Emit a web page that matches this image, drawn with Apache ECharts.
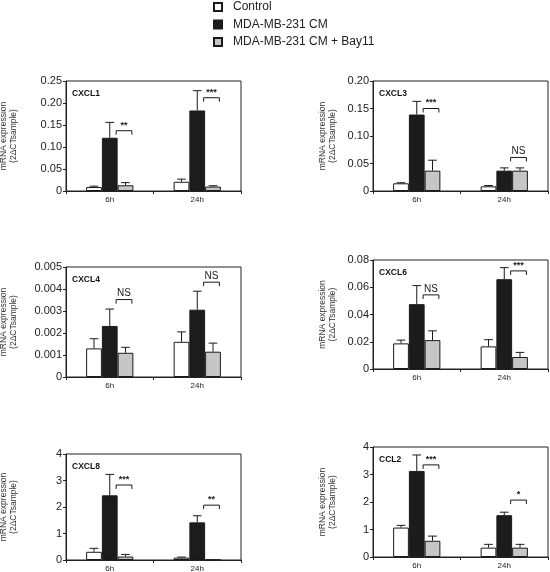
<!DOCTYPE html>
<html><head><meta charset="utf-8">
<script src="https://cdn.jsdelivr.net/npm/echarts@6/dist/echarts.min.js"></script>
<style>html,body{margin:0;padding:0;background:#fff}#c{width:550px;height:572px}</style>
</head><body><div id="c"></div>
<script>
// ---------- data ----------
const categories = ['6h', '24h'];
const seriesNames = ['Control', 'MDA-MB-231 CM', 'MDA-MB-231 CM + Bay11'];
const panelTitles = ['CXCL1', 'CXCL3', 'CXCL4', 'CXCL6', 'CXCL8', 'CCL2'];

// values [6h, 24h] ; error tops [6h, 24h]
const cxcl1Control = [0.009, 0.021], cxcl1ControlErr = [0.011, 0.027];
const cxcl1MDA = [0.121, 0.183], cxcl1MDAErr = [0.156, 0.228];
const cxcl1Bay = [0.013, 0.010], cxcl1BayErr = [0.019, 0.012];
const cxcl1Sig = [0.137, 0.212], cxcl1SigLabels = ['**', '***'];
const cxcl1Ticks = ['0', '0.05', '0.10', '0.15', '0.20', '0.25'];

const cxcl3Control = [0.014, 0.0085], cxcl3ControlErr = [0.015, 0.010];
const cxcl3MDA = [0.139, 0.037], cxcl3MDAErr = [0.163, 0.042];
const cxcl3Bay = [0.037, 0.037], cxcl3BayErr = [0.056, 0.042];
const cxcl3Sig = [0.150, 0.061], cxcl3SigLabels = ['***', 'NS'];
const cxcl3Ticks = ['0', '0.05', '0.10', '0.15', '0.20'];

const cxcl4Control = [0.0013, 0.0016], cxcl4ControlErr = [0.00174, 0.00205];
const cxcl4MDA = [0.00232, 0.00306], cxcl4MDAErr = [0.00309, 0.0039];
const cxcl4Bay = [0.0011, 0.00115], cxcl4BayErr = [0.00135, 0.00154];
const cxcl4Sig = [0.00352, 0.00431], cxcl4SigLabels = ['NS', 'NS'];
const cxcl4Ticks = ['0', '0.001', '0.002', '0.003', '0.004', '0.005'];

const cxcl6Control = [0.0188, 0.0166], cxcl6ControlErr = [0.0212, 0.0215];
const cxcl6MDA = [0.0476, 0.0659], cxcl6MDAErr = [0.0612, 0.0744];
const cxcl6Bay = [0.0212, 0.0088], cxcl6BayErr = [0.028, 0.0122];
const cxcl6Sig = [0.0544, 0.072], cxcl6SigLabels = ['NS', '***'];
const cxcl6Ticks = ['0', '0.02', '0.04', '0.06', '0.08'];

const cxcl8Control = [0.31, 0.09], cxcl8ControlErr = [0.44, 0.11];
const cxcl8MDA = [2.44, 1.42], cxcl8MDAErr = [3.23, 1.67];
const cxcl8Bay = [0.13, 0.01], cxcl8BayErr = [0.21, 0.01];
const cxcl8Sig = [2.83, 2.07], cxcl8SigLabels = ['***', '**'];
const cxcl8Ticks = ['0', '1', '2', '3', '4'];

const ccl2Control = [1.07, 0.34], ccl2ControlErr = [1.15, 0.46];
const ccl2MDA = [3.13, 1.52], ccl2MDAErr = [3.71, 1.63];
const ccl2Bay = [0.59, 0.34], ccl2BayErr = [0.76, 0.46];
const ccl2Sig = [3.35, 2.07], ccl2SigLabels = ['***', '*'];
const ccl2Ticks = ['0', '1', '2', '3', '4'];

const yMax = [0.25, 0.20, 0.005, 0.08, 4, 4];
const yStep = [0.05, 0.05, 0.001, 0.02, 1, 1];

// ---------- layout / style ----------
const FONT = '"Liberation Sans", Arial, sans-serif';
const grids = [
  {left: 66, top: 81, width: 175, height: 110},
  {left: 373, top: 81, width: 175, height: 110},
  {left: 66, top: 267, width: 175, height: 110},
  {left: 373, top: 260, width: 175, height: 109},
  {left: 66, top: 454, width: 175, height: 106},
  {left: 373, top: 447, width: 175, height: 110}
];
const nameGaps = [47, 35, 47, 35, 47, 35];
const fills = ['#ffffff', '#1c1c1c', '#c6c6c6'];
const BARW = 0.18;

const panels = [
  {vals: [cxcl1Control, cxcl1MDA, cxcl1Bay], errs: [cxcl1ControlErr, cxcl1MDAErr, cxcl1BayErr], sig: cxcl1Sig, sigL: cxcl1SigLabels, ticks: cxcl1Ticks},
  {vals: [cxcl3Control, cxcl3MDA, cxcl3Bay], errs: [cxcl3ControlErr, cxcl3MDAErr, cxcl3BayErr], sig: cxcl3Sig, sigL: cxcl3SigLabels, ticks: cxcl3Ticks},
  {vals: [cxcl4Control, cxcl4MDA, cxcl4Bay], errs: [cxcl4ControlErr, cxcl4MDAErr, cxcl4BayErr], sig: cxcl4Sig, sigL: cxcl4SigLabels, ticks: cxcl4Ticks},
  {vals: [cxcl6Control, cxcl6MDA, cxcl6Bay], errs: [cxcl6ControlErr, cxcl6MDAErr, cxcl6BayErr], sig: cxcl6Sig, sigL: cxcl6SigLabels, ticks: cxcl6Ticks},
  {vals: [cxcl8Control, cxcl8MDA, cxcl8Bay], errs: [cxcl8ControlErr, cxcl8MDAErr, cxcl8BayErr], sig: cxcl8Sig, sigL: cxcl8SigLabels, ticks: cxcl8Ticks},
  {vals: [ccl2Control, ccl2MDA, ccl2Bay], errs: [ccl2ControlErr, ccl2MDAErr, ccl2BayErr], sig: ccl2Sig, sigL: ccl2SigLabels, ticks: ccl2Ticks}
];

const xAxes = [], yAxes = [], series = [], titles = [];
panels.forEach((p, k) => {
  const g = grids[k];
  xAxes.push({
    type: 'category', gridIndex: k, data: categories, boundaryGap: true,
    axisLine: {lineStyle: {color: '#222', width: 1}},
    axisTick: {show: true, length: 3, alignWithLabel: false, lineStyle: {color: '#222'}},
    axisLabel: {fontFamily: FONT, fontSize: 8, color: '#222', margin: 5}
  });
  yAxes.push({
    type: 'value', gridIndex: k, min: 0, max: yMax[k], interval: yStep[k],
    splitLine: {show: false},
    axisLine: {show: true, lineStyle: {color: '#222', width: 1}},
    axisTick: {show: true, length: 3, lineStyle: {color: '#222'}},
    axisLabel: {fontFamily: FONT, fontSize: 11, color: '#222', margin: 4,
      formatter: (v, i) => p.ticks[i] !== undefined ? p.ticks[i] : ''},
    name: 'mRNA expression\n(2ΔCTsample)', nameLocation: 'middle', nameGap: nameGaps[k], nameRotate: 90,
    nameTextStyle: {fontFamily: FONT, fontSize: 8.5, color: '#333', lineHeight: 10}
  });
  titles.push({text: panelTitles[k], left: g.left + 6, top: g.top + 8, padding: 0,
    textStyle: {fontFamily: FONT, fontSize: 8.5, fontWeight: 'bold', color: '#111'}});
  p.vals.forEach((arr, si) => {
    series.push({
      type: 'bar', name: seriesNames[si], xAxisIndex: k, yAxisIndex: k, data: arr,
      barWidth: (BARW * 100) + '%', barGap: '0%',
      itemStyle: {color: fills[si], borderColor: '#1a1a1a', borderWidth: 1},
      emphasis: {disabled: true}, animation: false, z: 2
    });
  });
  // error bars
  const errData = [];
  p.vals.forEach((arr, si) => arr.forEach((v, ci) => errData.push([ci, v, p.errs[si][ci], si])));
  series.push({
    type: 'custom', xAxisIndex: k, yAxisIndex: k, data: errData, animation: false, z: 3, silent: true,
    renderItem: (params, api) => {
      const ci = api.value(0), v = api.value(1), e = api.value(2), si = api.value(3);
      if (!(e > v)) return null;
      const bw = api.size([1, 0])[0], barW = bw * BARW;
      const base = api.coord([ci, v]), top = api.coord([ci, e]);
      const x = base[0] + (si - 1) * barW;
      const cap = barW * 0.55;
      const st = {stroke: '#1a1a1a', lineWidth: 1};
      return {type: 'group', children: [
        {type: 'line', shape: {x1: x, y1: base[1], x2: x, y2: top[1]}, style: st},
        {type: 'line', shape: {x1: x - cap / 2, y1: top[1], x2: x + cap / 2, y2: top[1]}, style: st}
      ]};
    }
  });
  // significance brackets over the Bay11 bar
  series.push({
    type: 'custom', xAxisIndex: k, yAxisIndex: k, data: p.sig.map((y, ci) => [ci, y]),
    animation: false, z: 4, silent: true,
    renderItem: (params, api) => {
      const ci = api.value(0), y = api.value(1);
      const bw = api.size([1, 0])[0], barW = bw * BARW;
      const c = api.coord([ci, y]);
      const x1 = c[0] + 0.5 * barW - 1.5, x2 = c[0] + 1.5 * barW - 1.5;
      const st = {stroke: '#1a1a1a', lineWidth: 1, fill: null};
      const lab = p.sigL[params.dataIndex];
      const isNS = lab === 'NS';
      return {type: 'group', children: [
        {type: 'polyline', shape: {points: [[x1, c[1] + 4], [x1, c[1]], [x2, c[1]], [x2, c[1] + 4]]}, style: st},
        {type: 'text', x: (x1 + x2) / 2, y: c[1] - 1,
          style: {text: lab, fontFamily: FONT, fontSize: isNS ? 10 : 9, fontWeight: isNS ? 'normal' : 'bold',
            fill: '#1a1a1a', align: 'center', verticalAlign: 'bottom'}}
      ]};
    }
  });
});

const option = {
  backgroundColor: '#fff',
  animation: false,
  title: titles,
  legend: {
    data: seriesNames, orient: 'vertical', left: 213, top: 0, padding: 0, itemWidth: 8, itemHeight: 8, itemGap: 3.5,
    icon: 'rect', selectedMode: false,
    textStyle: {fontFamily: FONT, fontSize: 12, color: '#222', lineHeight: 14, padding: [0, 0, 0, 6]}
  },
  grid: grids.map(g => Object.assign({show: true, borderColor: '#222', borderWidth: 1, backgroundColor: 'transparent',
    containLabel: false, outerBoundsMode: 'none'}, g)),
  xAxis: xAxes,
  yAxis: yAxes,
  series: series
};
const chart = echarts.init(document.getElementById('c'), null, {renderer: 'canvas'});
chart.setOption(option);
</script></body></html>
